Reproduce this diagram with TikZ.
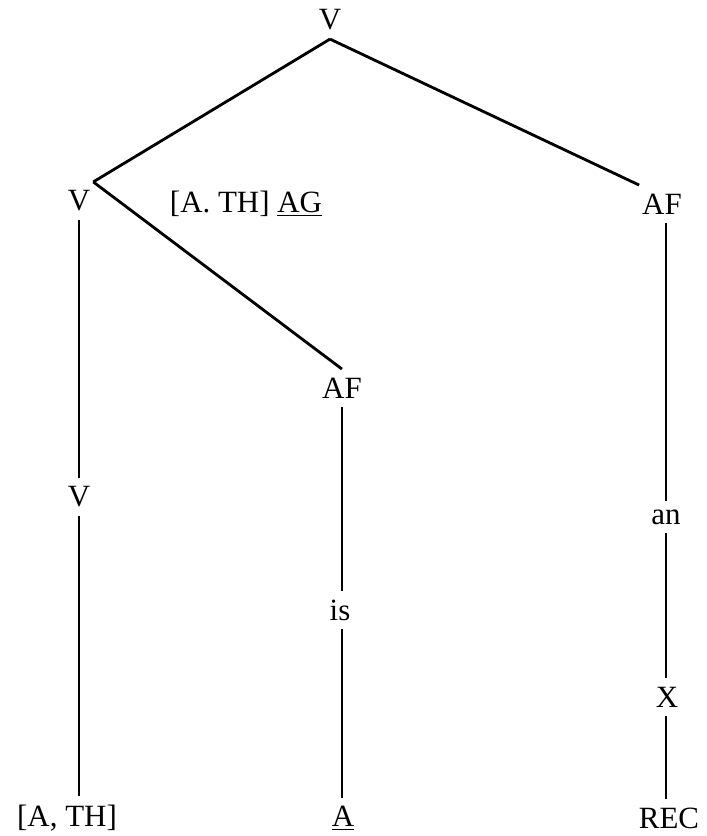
\documentclass[tikz,border=0pt]{standalone}
\usepackage{fontspec}
\setmainfont{Liberation Serif}
\usetikzlibrary{positioning}

\begin{document}
\begin{tikzpicture}[
		x=0.025cm, y=-0.025cm,
		font=\fontsize{22}{26}\selectfont,
		cat/.style={inner xsep=2pt, inner ysep=6pt},
		branch/.style={line width=2pt, black}
		]
		\useasboundingbox (0,0) rectangle (706,836);
		
		% Root
		\node[cat] (top) at (330,20) {V};
		
		% Left branch
		\node[cat] (vl) at (79,201) {V};
		\node[cat] (feat) at (246,204) {[A. TH] \underline{AG}};
		\node[cat] (vlow) at (79,497) {V};
		\node[cat] (ath) at (67,818) {[A, TH]};
		
		% Middle branch
		\node[cat] (afm) at (342,388) {AF};
		\node[cat] (is) at (340,610) {is};
		\node[cat] (amid) at (343,818) {\underline{A}};
		
		% Right branch
		\node[cat] (afr) at (662,204) {AF};
		\node[cat] (an) at (666,517) {an};
		\node[cat] (x) at (667,697) {X};
		\node[cat] (rec) at (669,818) {REC};
		
		% Connectors
		\draw[branch] (top.south) -- (vl.north east);
		\draw[branch] (top.south) -- (afr.north west);
		\draw[branch] (vl.north east) -- (afm.north);
		
		\draw[branch] (vl.south -| vlow.south) -- (vlow.north);
		\draw[branch] (vlow.south) -- (vlow.south |- ath.north);
		
		\draw[branch] (afm.south) -- (afm.south |- is.north);
		\draw[branch] (afm.south |- is.south) -- (afm.south |- amid.north);
		
		\draw[branch] (an.north |- afr.south) -- (an.north);
		\draw[branch] (an.south) -- (an.south |- x.north);
		\draw[branch] (an.south |- x.south) -- (an.south |- rec.north);
	\end{tikzpicture}
\end{document}
